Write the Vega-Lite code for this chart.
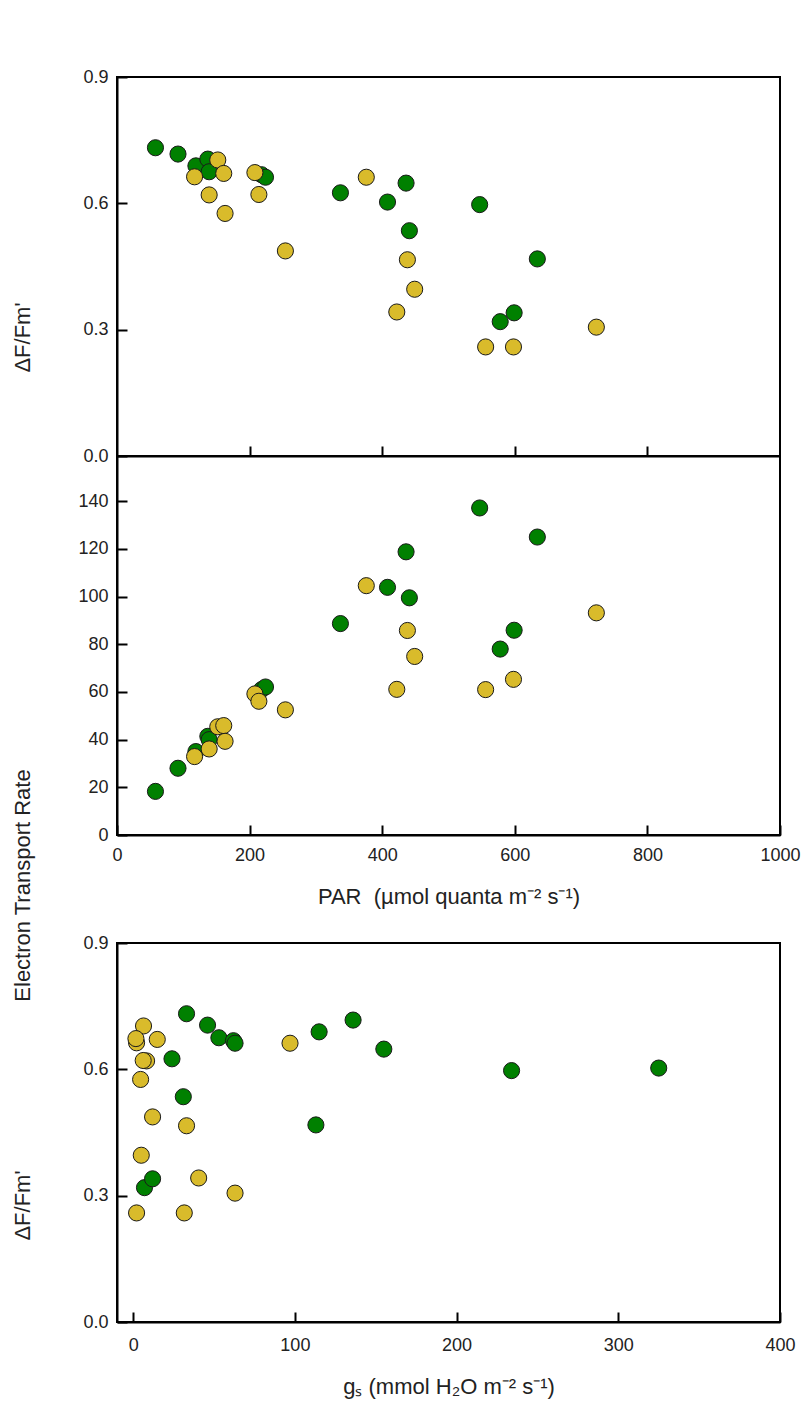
{
  "$schema": "https://vega.github.io/schema/vega-lite/v6.json",
  "background": "white",
  "padding": {"left": 10, "top": 67, "right": 5, "bottom": 5},
  "datasets": {
    "pts": [
      {"grp": "A", "PAR": 58, "F": 0.732, "ETR": 18.3, "gs": 33},
      {"grp": "A", "PAR": 92, "F": 0.717, "ETR": 28.0, "gs": 136},
      {"grp": "A", "PAR": 119, "F": 0.689, "ETR": 35.0, "gs": 115},
      {"grp": "A", "PAR": 137, "F": 0.705, "ETR": 41.4, "gs": 46},
      {"grp": "A", "PAR": 139, "F": 0.675, "ETR": 40.0, "gs": 53},
      {"grp": "A", "PAR": 218, "F": 0.668, "ETR": 61.0, "gs": 62},
      {"grp": "A", "PAR": 224, "F": 0.662, "ETR": 62.1, "gs": 63},
      {"grp": "A", "PAR": 337, "F": 0.625, "ETR": 88.7, "gs": 24},
      {"grp": "A", "PAR": 408, "F": 0.603, "ETR": 103.9, "gs": 325},
      {"grp": "A", "PAR": 436, "F": 0.648, "ETR": 118.8, "gs": 155},
      {"grp": "A", "PAR": 441, "F": 0.535, "ETR": 99.5, "gs": 31},
      {"grp": "A", "PAR": 547, "F": 0.597, "ETR": 137.2, "gs": 234},
      {"grp": "A", "PAR": 578, "F": 0.319, "ETR": 78.0, "gs": 7},
      {"grp": "A", "PAR": 599, "F": 0.340, "ETR": 85.9, "gs": 12},
      {"grp": "A", "PAR": 634, "F": 0.468, "ETR": 125.0, "gs": 113},
      {"grp": "B", "PAR": 117, "F": 0.663, "ETR": 32.9, "gs": 2.1},
      {"grp": "B", "PAR": 152, "F": 0.703, "ETR": 45.4, "gs": 6.4},
      {"grp": "B", "PAR": 161, "F": 0.671, "ETR": 45.9, "gs": 14.9},
      {"grp": "B", "PAR": 139, "F": 0.620, "ETR": 36.1, "gs": 8.3},
      {"grp": "B", "PAR": 163, "F": 0.576, "ETR": 39.3, "gs": 4.6},
      {"grp": "B", "PAR": 208, "F": 0.673, "ETR": 59.2, "gs": 1.7},
      {"grp": "B", "PAR": 214, "F": 0.621, "ETR": 56.1, "gs": 6.2},
      {"grp": "B", "PAR": 254, "F": 0.487, "ETR": 52.5, "gs": 12},
      {"grp": "B", "PAR": 376, "F": 0.662, "ETR": 104.6, "gs": 97},
      {"grp": "B", "PAR": 422, "F": 0.342, "ETR": 61.1, "gs": 40.5},
      {"grp": "B", "PAR": 438, "F": 0.466, "ETR": 85.8, "gs": 33},
      {"grp": "B", "PAR": 449, "F": 0.396, "ETR": 74.9, "gs": 5},
      {"grp": "B", "PAR": 556, "F": 0.259, "ETR": 61.0, "gs": 2.1},
      {"grp": "B", "PAR": 598, "F": 0.259, "ETR": 65.3, "gs": 31.6},
      {"grp": "B", "PAR": 723, "F": 0.306, "ETR": 93.2, "gs": 63}
    ]
  },
  "config": {
    "font": "Liberation Sans",
    "view": {"stroke": "black", "strokeWidth": 2},
    "axis": {
      "grid": false,
      "domainColor": "black", "domainWidth": 2,
      "tickColor": "black", "tickWidth": 2, "tickSize": -10,
      "labelFont": "Liberation Sans", "labelFontSize": 18, "labelColor": "#222222",
      "labelFlush": false, "labelOverlap": false,
      "titleFont": "Liberation Sans", "titleFontSize": 22, "titleFontWeight": "normal", "titleColor": "#222222"
    }
  },
  "bounds": "flush",
  "spacing": 0,
  "vconcat": [
    {
      "width": 663, "height": 379,
      "data": {"name": "pts"},
      "mark": {"type": "circle", "size": 260, "stroke": "#1a1a1a", "strokeWidth": 1, "opacity": 1},
      "encoding": {
        "x": {"field": "PAR", "type": "quantitative", "scale": {"domain": [0, 1000], "nice": false},
              "axis": {"values": [200, 400, 600, 800], "labels": false, "title": null}},
        "y": {"field": "F", "type": "quantitative", "scale": {"domain": [0, 0.9], "nice": false},
              "axis": {"values": [0, 0.3, 0.6, 0.9], "format": ".1f", "labelPadding": 19,
                       "title": "ΔF/Fm'", "titleX": -83, "titleY": 260}},
        "color": {"field": "grp", "type": "nominal", "scale": {"domain": ["A", "B"], "range": ["#008000", "#D9BB2B"]}, "legend": null}
      }
    },
    {
      "width": 663, "height": 379,
      "data": {"name": "pts"},
      "mark": {"type": "circle", "size": 260, "stroke": "#1a1a1a", "strokeWidth": 1, "opacity": 1},
      "encoding": {
        "x": {"field": "PAR", "type": "quantitative", "scale": {"domain": [0, 1000], "nice": false},
              "axis": {"values": [0, 200, 400, 600, 800, 1000], "format": "d", "labelPadding": 21,
                       "title": "PAR\u00a0 (µmol quanta m⁻² s⁻¹)", "titleY": 68, "titleBaseline": "alphabetic"}},
        "y": {"field": "ETR", "type": "quantitative", "scale": {"domain": [0, 159], "nice": false},
              "axis": {"values": [0, 20, 40, 60, 80, 100, 120, 140], "format": "d", "labelPadding": 19,
                       "title": "Electron Transport Rate", "titleX": -83, "titleY": 429}},
        "color": {"field": "grp", "type": "nominal", "scale": {"domain": ["A", "B"], "range": ["#008000", "#D9BB2B"]}, "legend": null}
      }
    },
    {
      "width": 663, "height": 108,
      "view": {"stroke": null},
      "data": {"values": []},
      "mark": {"type": "point"},
      "encoding": {}
    },
    {
      "width": 663, "height": 379,
      "data": {"name": "pts"},
      "mark": {"type": "circle", "size": 260, "stroke": "#1a1a1a", "strokeWidth": 1, "opacity": 1},
      "encoding": {
        "x": {"field": "gs", "type": "quantitative", "scale": {"domain": [-10, 400], "nice": false, "zero": false},
              "axis": {"values": [0, 100, 200, 300, 400], "format": "d", "labelPadding": 24,
                       "title": "gₛ (mmol H₂O m⁻² s⁻¹)", "titleY": 71, "titleBaseline": "alphabetic"}},
        "y": {"field": "F", "type": "quantitative", "scale": {"domain": [0, 0.9], "nice": false},
              "axis": {"values": [0, 0.3, 0.6, 0.9], "format": ".1f", "labelPadding": 19,
                       "title": "ΔF/Fm'", "titleX": -83, "titleY": 262}},
        "color": {"field": "grp", "type": "nominal", "scale": {"domain": ["A", "B"], "range": ["#008000", "#D9BB2B"]}, "legend": null}
      }
    }
  ]
}
